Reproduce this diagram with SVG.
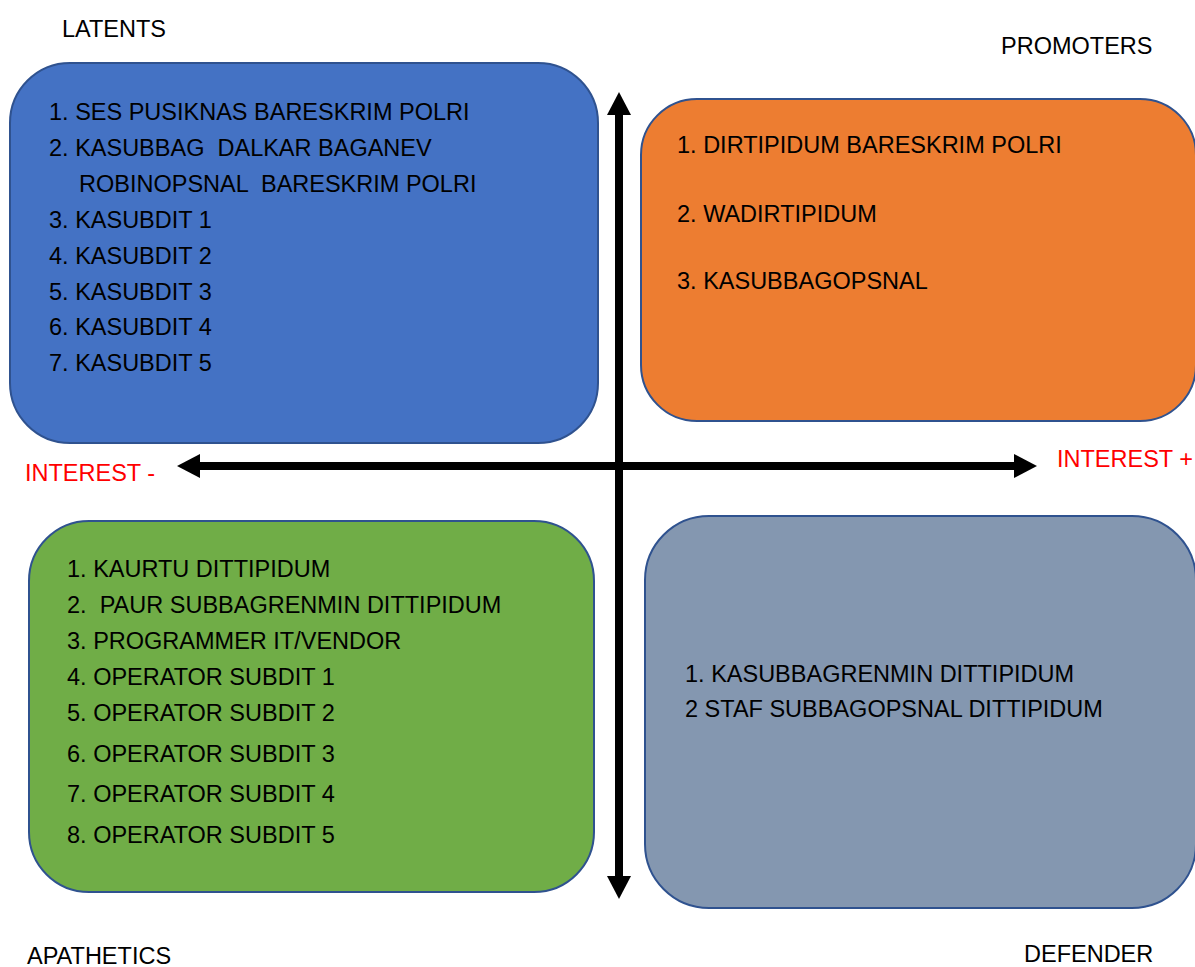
<svg xmlns="http://www.w3.org/2000/svg" width="1195" height="967" viewBox="0 0 1195 967">
  <style>
    .box { stroke: #2F528F; stroke-width: 2; }
    .t { font-family: "Liberation Sans", Arial, sans-serif; font-size: 23.5px; fill: #000000; }
    .red { fill: #FF0000; }
    .axis { stroke: #000000; stroke-width: 8; fill: none; }
  </style>
  <defs>
    <marker id="head" viewBox="0 0 23 24" markerWidth="23" markerHeight="24" refX="0" refY="12" orient="auto-start-reverse" markerUnits="userSpaceOnUse">
      <path d="M0,0 L23,12 L0,24 Z" fill="#000000"/>
    </marker>
  </defs>
  <rect width="1195" height="967" fill="#FFFFFF"/>

  <g id="latents">
    <rect class="box" x="10" y="63" width="588" height="380" rx="60" ry="60" fill="#4472C4"/>
    <text class="t" x="49" y="120">1. SES PUSIKNAS BARESKRIM POLRI</text>
    <text class="t" x="49" y="156" xml:space="preserve">2. KASUBBAG  DALKAR BAGANEV</text>
    <text class="t" x="79" y="192" xml:space="preserve">ROBINOPSNAL  BARESKRIM POLRI</text>
    <text class="t" x="49" y="228">3. KASUBDIT 1</text>
    <text class="t" x="49" y="264">4. KASUBDIT 2</text>
    <text class="t" x="49" y="300">5. KASUBDIT 3</text>
    <text class="t" x="49" y="335">6. KASUBDIT 4</text>
    <text class="t" x="49" y="371">7. KASUBDIT 5</text>
  </g>

  <g id="promoters">
    <rect class="box" x="641" y="99" width="555" height="322" rx="56" ry="56" fill="#ED7D31"/>
    <text class="t" x="677" y="153">1. DIRTIPIDUM BARESKRIM POLRI</text>
    <text class="t" x="677" y="222">2. WADIRTIPIDUM</text>
    <text class="t" x="677" y="289">3. KASUBBAGOPSNAL</text>
  </g>

  <g id="apathetics">
    <rect class="box" x="29" y="521" width="565" height="371" rx="60" ry="60" fill="#70AD47"/>
    <text class="t" x="67" y="577">1. KAURTU DITTIPIDUM</text>
    <text class="t" x="67" y="613" xml:space="preserve">2.  PAUR SUBBAGRENMIN DITTIPIDUM</text>
    <text class="t" x="67" y="649">3. PROGRAMMER IT/VENDOR</text>
    <text class="t" x="67" y="685">4. OPERATOR SUBDIT 1</text>
    <text class="t" x="67" y="721">5. OPERATOR SUBDIT 2</text>
    <text class="t" x="67" y="762">6. OPERATOR SUBDIT 3</text>
    <text class="t" x="67" y="802">7. OPERATOR SUBDIT 4</text>
    <text class="t" x="67" y="843">8. OPERATOR SUBDIT 5</text>
  </g>

  <g id="defender">
    <rect class="box" x="645" y="516" width="551" height="392" rx="64" ry="64" fill="#8497B0"/>
    <text class="t" x="685" y="682">1. KASUBBAGRENMIN DITTIPIDUM</text>
    <text class="t" x="685" y="717">2 STAF SUBBAGOPSNAL DITTIPIDUM</text>
  </g>

  <g id="connectors">
    <line class="axis" x1="619" y1="115" x2="619" y2="876" marker-start="url(#head)" marker-end="url(#head)"/>
    <line class="axis" x1="200" y1="466" x2="1014" y2="466" marker-start="url(#head)" marker-end="url(#head)"/>
  </g>

  <g id="labels">
    <text class="t" x="62" y="37">LATENTS</text>
    <text class="t" x="1001" y="54">PROMOTERS</text>
    <text class="t red" x="25" y="481">INTEREST -</text>
    <text class="t red" x="1057" y="467">INTEREST +</text>
    <text class="t" x="27" y="964">APATHETICS</text>
    <text class="t" x="1024" y="962">DEFENDER</text>
  </g>
</svg>
